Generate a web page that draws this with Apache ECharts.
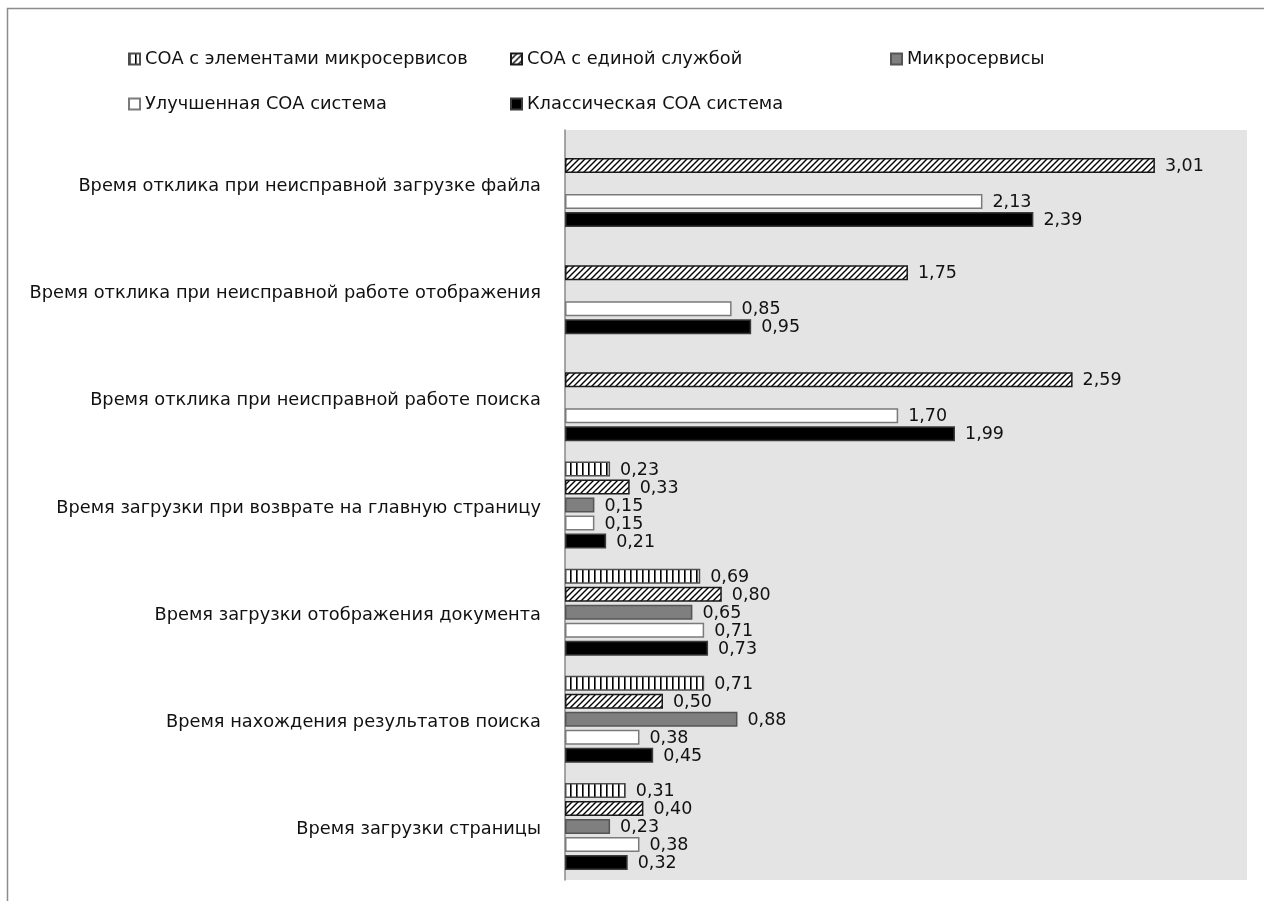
<!DOCTYPE html>
<html>
<head>
<meta charset="utf-8">
<script src="https://cdn.jsdelivr.net/npm/echarts@6/dist/echarts.min.js"></script>
<style>
html,body{margin:0;padding:0;background:#fff;}
#chart{width:1264px;height:901px;}
</style>
</head>
<body>
<div id="chart"></div>
<script>
// Categories, top to bottom
const categories = [
  'Время отклика при неисправной загрузке файла',
  'Время отклика при неисправной работе отображения',
  'Время отклика при неисправной работе поиска',
  'Время загрузки при возврате на главную страницу',
  'Время загрузки отображения документа',
  'Время нахождения результатов поиска',
  'Время загрузки страницы'
];
const seriesNames = [
  'СОА с элементами микросервисов',
  'СОА с единой службой',
  'Микросервисы',
  'Улучшенная СОА система',
  'Классическая СОА система'
];
const soaMicroElements = [null, null, null, 0.23, 0.69, 0.71, 0.31];
const soaSingleService = [3.01, 1.75, 2.59, 0.33, 0.80, 0.50, 0.40];
const microservices    = [null, null, null, 0.15, 0.65, 0.88, 0.23];
const improvedSoa      = [2.13, 0.85, 1.70, 0.15, 0.71, 0.38, 0.38];
const classicSoa       = [2.39, 0.95, 1.99, 0.21, 0.73, 0.45, 0.32];

function stripePattern() {
  const c = document.createElement('canvas');
  c.width = 6; c.height = 6;
  const g = c.getContext('2d');
  g.fillStyle = '#fff'; g.fillRect(0, 0, 6, 6);
  g.fillStyle = '#000'; g.fillRect(0, 0, 1.6, 6);
  return c;
}
function hatchPattern() {
  const c = document.createElement('canvas');
  c.width = 6; c.height = 6;
  const g = c.getContext('2d');
  g.fillStyle = '#fff'; g.fillRect(0, 0, 6, 6);
  g.strokeStyle = '#000'; g.lineWidth = 1.4;
  g.beginPath();
  g.moveTo(-1, 7); g.lineTo(7, -1);
  g.moveTo(-4, 4); g.lineTo(4, -4);
  g.moveTo(2, 10); g.lineTo(10, 2);
  g.stroke();
  return c;
}

const FONT = 'DejaVu Sans';
const fmt = p => p.value == null ? '' : p.value.toFixed(2).replace('.', ',');

const styles = [
  { color: { image: stripePattern(), repeat: 'repeat' }, borderColor: '#4d4d4d', borderWidth: 1.5 },
  { color: { image: hatchPattern(), repeat: 'repeat' }, borderColor: '#1a1a1a', borderWidth: 1.5 },
  { color: '#7f7f7f', borderColor: '#555555', borderWidth: 1.5 },
  { color: '#ffffff', borderColor: '#7a7a7a', borderWidth: 1.5 },
  { color: '#000000', borderColor: '#3a3a3a', borderWidth: 1.5 }
];
const dataArr = [soaMicroElements, soaSingleService, microservices, improvedSoa, classicSoa];

const series = seriesNames.map((n, i) => ({
  name: n,
  type: 'bar',
  data: dataArr[i],
  barWidth: 15,
  barGap: '20%',
  itemStyle: styles[i],
  label: {
    show: true,
    position: 'right',
    distance: 10,
    formatter: fmt,
    color: '#111111',
    fontFamily: FONT,
    fontSize: 17.5,
    offset: [0, 1]
  },
  emphasis: { disabled: true },
  animation: false
}));

const legendPos = [
  { left: 128, top: 50 },
  { left: 510, top: 50 },
  { left: 890, top: 50 },
  { left: 128, top: 95 },
  { left: 510, top: 95 }
];
const legends = seriesNames.map((n, i) => ({
  data: [n],
  left: legendPos[i].left,
  top: legendPos[i].top,
  padding: 0,
  icon: 'rect',
  itemWidth: 11,
  itemHeight: 11,
  selectedMode: false,
  textStyle: { fontFamily: FONT, fontSize: 17.8, color: '#111111' }
}));

const chart = echarts.init(document.getElementById('chart'), null, { renderer: 'canvas' });
chart.setOption({
  backgroundColor: '#ffffff',
  animation: false,
  legend: legends,
  graphic: [{
    type: 'rect',
    shape: { x: 7.5, y: 8.5, width: 1400, height: 1000 },
    style: { fill: 'none', stroke: '#8c8c8c', lineWidth: 1.5 },
    silent: true,
    z: -10
  }],
  grid: {
    left: 565, right: 17, top: 130, bottom: 21,
    show: true, backgroundColor: '#e4e4e4', borderWidth: 0
  },
  xAxis: {
    type: 'value', min: 0, max: 3.48,
    axisLine: { show: false }, axisTick: { show: false },
    axisLabel: { show: false }, splitLine: { show: false }
  },
  yAxis: {
    type: 'category',
    inverse: true,
    data: categories,
    axisLine: { show: true, lineStyle: { color: '#8a8a8a', width: 1.5 } },
    axisTick: { show: false },
    axisLabel: {
      color: '#111111', fontFamily: FONT, fontSize: 17.8, margin: 24,
      formatter: v => '{a|' + v + '}',
      rich: { a: { color: '#111111', fontFamily: FONT, fontSize: 17.8, padding: [6, 0, 0, 0] } }
    }
  },
  series: series
});
</script>
</body>
</html>
